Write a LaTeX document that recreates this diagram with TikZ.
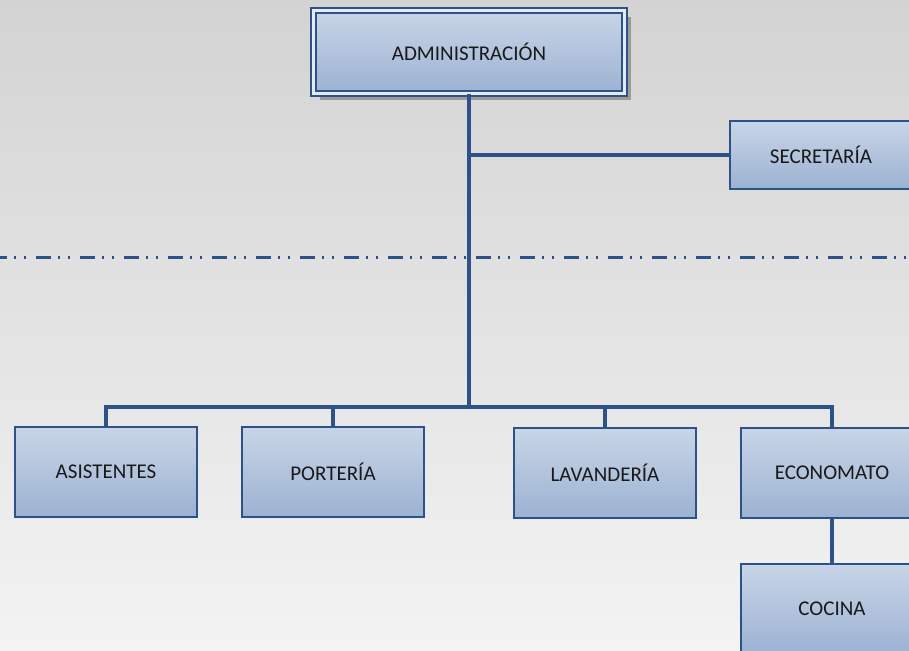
\documentclass[tikz,border=0pt]{standalone}
\usepackage{fontspec}
\setmainfont{Carlito}
\usetikzlibrary{shadows}
\definecolor{lineblue}{HTML}{2D5288}
\definecolor{boxtop}{HTML}{C8D5E7}
\definecolor{boxbot}{HTML}{9CB2D2}
\definecolor{bgtop}{HTML}{D3D3D3}
\definecolor{bgbot}{HTML}{F3F3F3}
\begin{document}
\begin{tikzpicture}[x=1pt,y=-1pt,
    unit/.style={draw=lineblue, line width=1.8pt, top color=boxtop, bottom color=boxbot,
      minimum width=182pt, minimum height=90pt, inner sep=0pt,
      text=black!90, font=\fontsize{21}{24}\selectfont},
    chief/.style={unit, minimum width=311pt, minimum height=83pt, line width=2pt,
      double=boxtop!50!white, double distance=2.5pt,
      drop shadow={shadow xshift=6.5pt, shadow yshift=-6.5pt, fill=black!55, opacity=.6}},
    link/.style={draw=lineblue, line width=3.2pt}]
    \useasboundingbox (0,0) rectangle (909,650);
    \clip (0,0) rectangle (909,650);
    \shade [top color=bgtop, bottom color=bgbot] (0,0) rectangle (909,650);
    % top
    \node [chief] (admin) at (469,52) {ADMINISTRACIÓN};
    \node [unit, minimum height=68pt] (secr) at (821,155) {SECRETARÍA};
    % divisor
    \coordinate (divL) at (-4,257);
    \coordinate (divR) at (915,257);
    \draw [lineblue, line width=3pt,
      dash pattern=on 15pt off 7pt on 2pt off 8pt on 2pt off 10pt, dash phase=4pt]
      (divL) -- (divR);
    % units
    \node [unit] (asis) at (106,472) {ASISTENTES};
    \node [unit] (port) at (333,472) {PORTERÍA};
    \node [unit] (lav) at (605,473) {LAVANDERÍA};
    \node [unit] (econ) at (832,473) {ECONOMATO};
    \node [unit] (coc) at (832,609) {COCINA};
    % connectors
    \coordinate (junc) at (469,155);
    \coordinate (bus) at (469,407);
    \draw [link] (admin.south) -- (bus);
    \draw [link] (junc) -- (secr.west);
    \draw [link] (bus) -| (asis.north);
    \draw [link] (bus) -| (port.north);
    \draw [link] (bus) -| (lav.north);
    \draw [link] (bus) -| (econ.north);
    \draw [link] (econ.south) -- (coc.north);
\end{tikzpicture}
\end{document}
